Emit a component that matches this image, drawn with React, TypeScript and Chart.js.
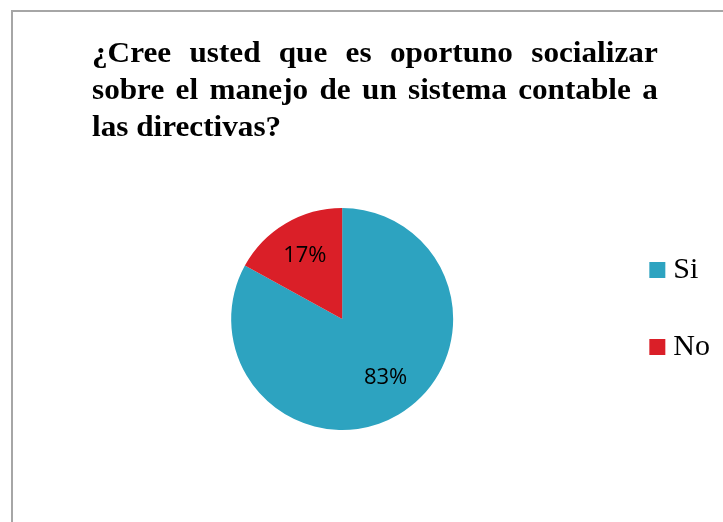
import React, { useEffect, useRef } from "react";
import { Chart, registerables } from "chart.js";

Chart.register(...registerables);

const categories = ["Si", "No"];
const values = [83, 17];
const colors = ["#2DA3C0", "#DA1F28"];
const titleLines = [
  "¿Cree usted que es oportuno socializar",
  "sobre el manejo de un sistema contable a",
  "las directivas?",
];

const pctLabels = {
  id: "pctLabels",
  afterDatasetsDraw(chart: any) {
    const { ctx } = chart;
    const meta = chart.getDatasetMeta(0);
    const total = values.reduce((a, b) => a + b, 0);
    ctx.save();
    ctx.font = '22px "Open Sans"';
    ctx.fillStyle = "#000";
    ctx.textAlign = "center";
    ctx.textBaseline = "middle";
    meta.data.forEach((arc: any, i: number) => {
      const { x, y, startAngle, endAngle, outerRadius } = arc.getProps(
        ["x", "y", "startAngle", "endAngle", "outerRadius"],
        true
      );
      const mid = (startAngle + endAngle) / 2 - (i === 0 ? 0.1 : 0);
      const r = outerRadius * 0.66;
      const pct = Math.round((values[i] / total) * 100) + "%";
      ctx.fillText(pct, x + Math.cos(mid) * r, y + Math.sin(mid) * r);
    });
    ctx.restore();
  },
};

export default function App() {
  const ref = useRef<HTMLCanvasElement>(null);
  useEffect(() => {
    if (!ref.current) return;
    const chart = new Chart(ref.current, {
      type: "pie",
      data: {
        labels: categories,
        datasets: [
          {
            data: values,
            backgroundColor: colors,
            borderWidth: 0,
          },
        ],
      },
      options: {
        animation: false,
        responsive: false,
        maintainAspectRatio: false,
        layout: { padding: { top: 208, bottom: 92, left: 75, right: 3 } },
        plugins: {
          title: { display: false },
          tooltip: { enabled: false },
          legend: {
            position: "right",
            align: "start",
            labels: {
              usePointStyle: true,
              pointStyle: "rect",
              boxWidth: 2,
              boxHeight: 16,
              padding: 47,
              color: "#000",
              font: { family: '"Liberation Serif", "Times New Roman", serif', size: 30 },
            },
          },
        },
      },
      plugins: [pctLabels],
    });
    return () => chart.destroy();
  }, []);

  const lineStyle = (justify: boolean): React.CSSProperties => ({
    textAlign: justify ? "justify" : "left",
    textAlignLast: justify ? "justify" : "left",
    whiteSpace: "nowrap",
    height: 37,
  });

  return (
    <div
      style={{
        position: "fixed",
        left: 0,
        top: 0,
        width: 723,
        height: 522,
        background: "#fff",
        overflow: "hidden",
      }}
    >
      <div
        style={{
          position: "absolute",
          left: 11,
          top: 10,
          width: 800,
          height: 600,
          borderTop: "2px solid #a6a6a6",
          borderLeft: "2px solid #a6a6a6",
        }}
      />
      <canvas
        ref={ref}
        width={723}
        height={522}
        style={{ position: "absolute", left: 0, top: 0, width: 723, height: 522 }}
      />
      <div
        style={{
          position: "absolute",
          left: 92,
          top: 33,
          width: 544,
          transform: "scaleX(1.04)",
          transformOrigin: "left top",
          fontFamily: '"Liberation Serif", "Times New Roman", serif',
          fontWeight: "bold",
          fontSize: 30,
          lineHeight: "37px",
          color: "#000",
        }}
      >
        {titleLines.map((t, i) => (
          <div key={i} style={lineStyle(i < titleLines.length - 1)}>
            {t}
          </div>
        ))}
      </div>
    </div>
  );
}
